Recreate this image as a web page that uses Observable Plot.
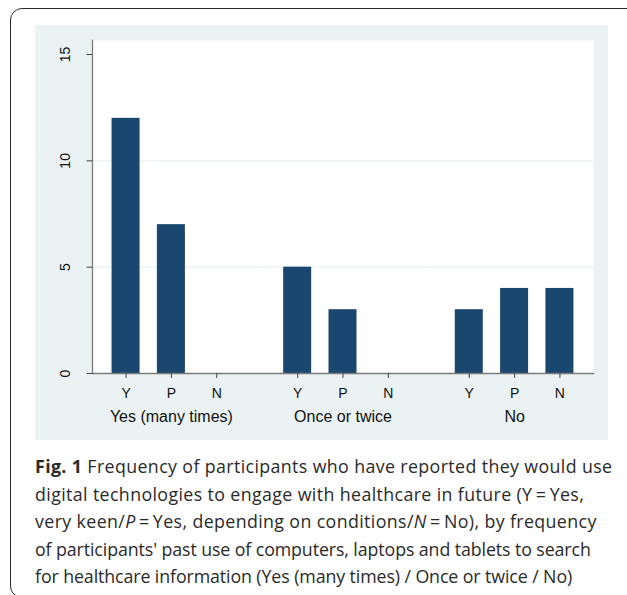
<!DOCTYPE html>
<html>
<head>
<meta charset="utf-8">
<script src="https://cdn.jsdelivr.net/npm/d3@7"></script>
<script src="https://cdn.jsdelivr.net/npm/@observablehq/plot@0.6"></script>
<style>
  html, body { margin: 0; padding: 0; background: #fff; }
  body { width: 627px; height: 595px; position: relative; overflow: hidden; }
  #box { position: absolute; left: 10px; top: 8px; width: 640px; height: 590px;
         border: 1.5px solid #2a2a2a; border-radius: 12px; box-sizing: border-box; }
  #chart { position: absolute; left: 35px; top: 25px; }
  #caption { position: absolute; left: 35px; top: 453px; width: 590px;
             font-family: "Open Sans", sans-serif; font-size: 17.8px; line-height: 27.6px;
             color: #2a2a2a; white-space: nowrap; }
  #caption span { display: block; }
  #caption .w { letter-spacing: 0.38px; }
  #caption .n { letter-spacing: -0.1px; }
  #caption b { font-weight: 700; }
</style>
</head>
<body>
<div id="box"></div>
<div id="chart"></div>
<div id="caption">
  <span class="w"><b>Fig. 1</b> Frequency of participants who have reported they would use</span>
  <span class="w">digital technologies to engage with healthcare in future (Y&#8201;=&#8201;Yes,</span>
  <span class="w">very keen/<i>P</i>&#8201;=&#8201;Yes, depending on conditions/<i>N</i>&#8201;=&#8201;No), by frequency</span>
  <span class="n">of participants' past use of computers, laptops and tablets to search</span>
  <span class="n">for healthcare information (Yes (many times) / Once or twice / No)</span>
</div>
<script>
const groups = ["Yes (many times)", "Once or twice", "No"];
const answers = ["Y", "P", "N"];
const countsYesMany = [12, 7, 0];
const countsOnceTwice = [5, 3, 0];
const countsNo = [3, 4, 4];
const yTicks = [0, 5, 10, 15];
const gridValues = [5, 10];

const seriesByGroup = [countsYesMany, countsOnceTwice, countsNo];
const data = groups.flatMap((g, gi) =>
  answers.map((a, ai) => ({group: g, answer: a, count: seriesByGroup[gi][ai]})));

const navy = "#1a476f";
const panel = "#eaf2f3";
const axisGray = "#7a7a7a";

const chart = Plot.plot({
  width: 573,
  height: 415,
  marginLeft: 57,
  marginRight: 15,
  marginTop: 15,
  marginBottom: 67,
  style: {background: panel, fontFamily: "'Liberation Sans', Arial, sans-serif", color: "#111", overflow: "visible"},
  fx: {domain: groups, paddingInner: 0.0805, paddingOuter: 0, round: false, label: null},
  x: {domain: answers, paddingInner: 0.382, paddingOuter: 0.4316, round: false, label: null},
  y: {domain: [0, 15.66], label: null},
  marks: [
    Plot.frame({fill: "white", stroke: "none", facet: "super"}),
    Plot.ruleY(gridValues, {stroke: panel, strokeWidth: 1.2, insetLeft: -7.5, insetRight: -7.5}),
    Plot.barY(data, {fx: "group", x: "answer", y: "count", fill: navy}),
    Plot.frame({anchor: "left", stroke: axisGray, strokeWidth: 1.3, facet: "super"}),
    Plot.frame({anchor: "bottom", stroke: axisGray, strokeWidth: 1.3, facet: "super"}),
    Plot.axisY(yTicks, {anchor: "left", tickSize: 5.5, tickPadding: 17, tickRotate: -90,
      fontSize: 14, stroke: "#444", fill: "#111", label: null}),
    Plot.axisX({anchor: "bottom", tickSize: 5, tickPadding: 10, fontSize: 14,
      stroke: "#444", fill: "#111", label: null}),
    Plot.axisFx({anchor: "bottom", tickSize: 0, tickPadding: 37, fontSize: 16,
      fill: "#111", label: null})
  ]
});
document.getElementById("chart").appendChild(chart);
</script>
</body>
</html>
